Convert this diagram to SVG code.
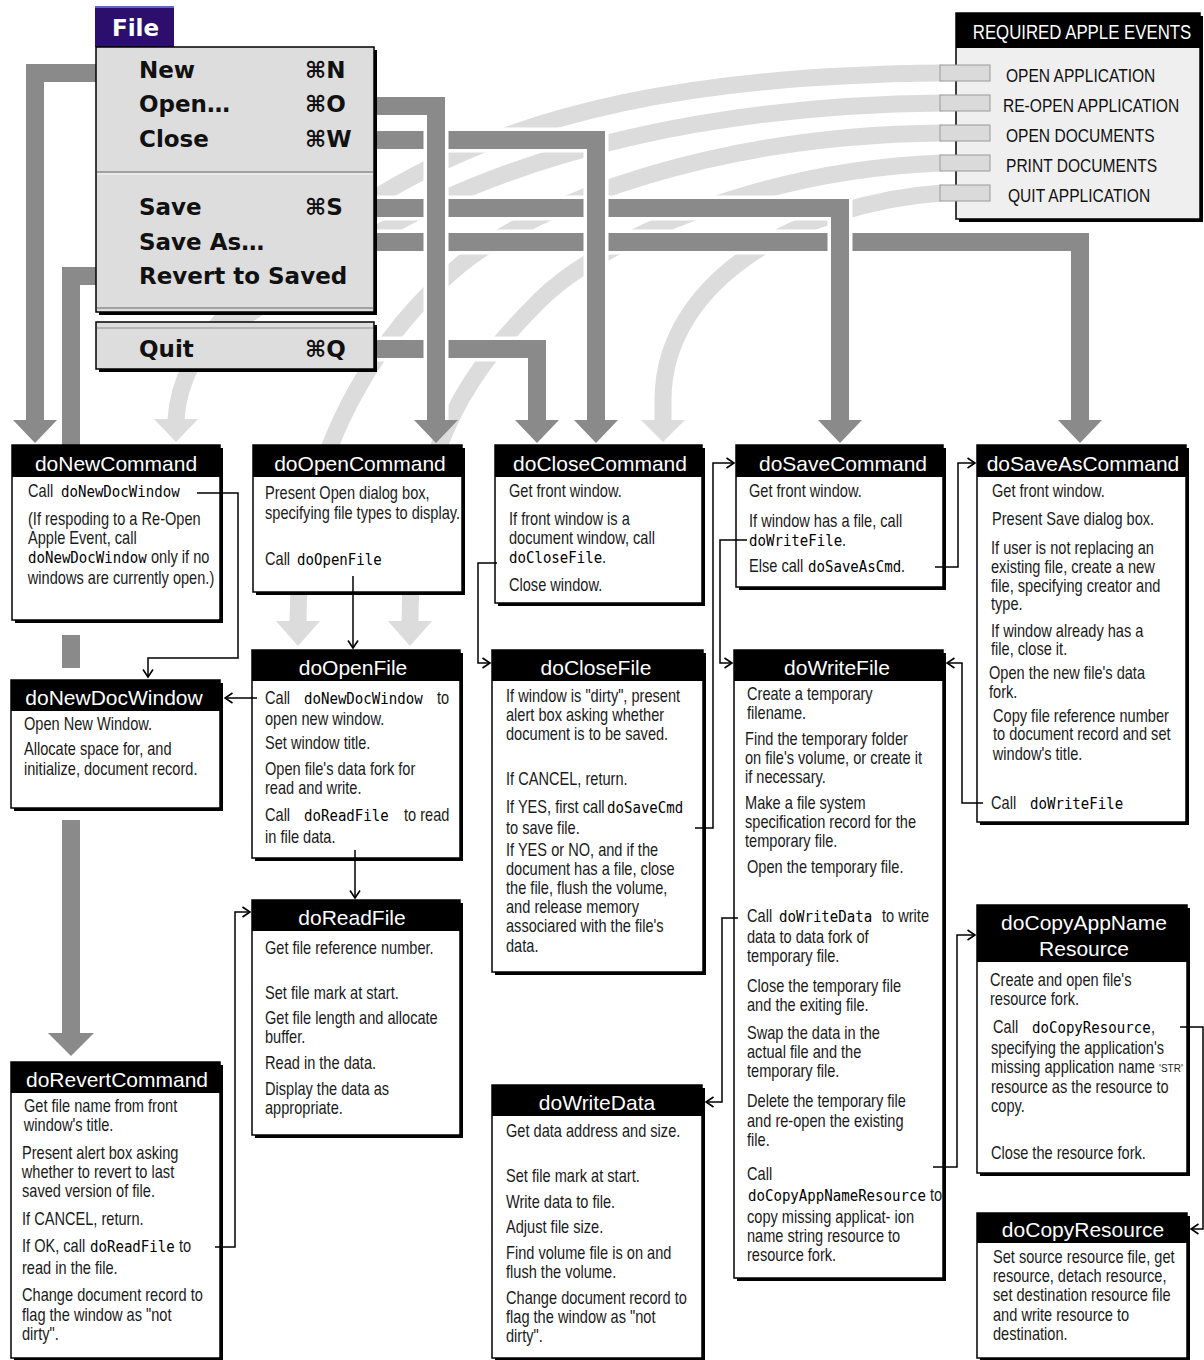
<svg xmlns="http://www.w3.org/2000/svg" width="1204" height="1360" viewBox="0 0 1204 1360">
<defs>
<style>
.b{font-family:"Liberation Sans",Arial,sans-serif;font-size:17.8px;fill:#1a1a1a;transform-box:fill-box;transform-origin:0 50%;transform:scaleX(.82)}
.c{font-family:"DejaVu Sans Mono","Liberation Mono",monospace;font-size:16px;fill:#000;transform-box:fill-box;transform-origin:0 50%;transform:scaleX(.88)}
.s{font-family:"Liberation Sans",Arial,sans-serif;font-size:10px;fill:#1a1a1a}
.t{font-family:"Liberation Sans",Arial,sans-serif;font-size:21px;fill:#fff;text-anchor:middle}
.m{font-family:"DejaVu Sans",sans-serif;font-weight:bold;font-size:23px;fill:#111}
.ae{font-family:"Liberation Sans",Arial,sans-serif;font-size:19px;fill:#111;transform-box:fill-box;transform-origin:0 50%;transform:scaleX(.82)}
.aet{font-family:"Liberation Sans",Arial,sans-serif;font-size:20.5px;fill:#fff;text-anchor:middle;transform-box:fill-box;transform-origin:50% 50%;transform:scaleX(.82)}
.sh{fill:#000}
.bx{fill:#fff;stroke:#000;stroke-width:1.5}
.tb{fill:#000}
.arc{fill:none;stroke:#dcdcdc;stroke-width:17}
.wo{fill:none;stroke:#fff;stroke-width:25}
.dk{fill:none;stroke:#8a8a8a;stroke-width:18}
.ah{fill:#8a8a8a}
.la{fill:#dcdcdc}
.ln{fill:none;stroke:#000;stroke-width:1.5}
.tab{fill:#dadada;stroke:#9a9a9a;stroke-width:1}
</style>
<marker id="arr" markerWidth="10" markerHeight="12" refX="8.5" refY="6" orient="auto" markerUnits="userSpaceOnUse">
<path d="M1,1 L8.5,6 L1,11" fill="none" stroke="#000" stroke-width="1.6"/>
</marker>
</defs>
<rect x="0" y="0" width="1204" height="1360" fill="#fff"/>

<g id="connectors">
<path class="arc" d="M942 73 C700 75 520 110 380 195 C260 270 180 340 176 420"/>
<polygon class="la" points="154,419 198,419 176,442"/>
<path class="arc" d="M942 103 C720 105 520 150 380 232 C270 300 200 340 180 372"/>
<path class="arc" d="M942 133 C720 135 540 200 460 265 C400 315 298 430 298 622"/>
<polygon class="la" points="276,621 320,621 298,646"/>
<path class="arc" d="M942 163 C760 170 600 240 540 300 C480 360 410 440 410 622"/>
<polygon class="la" points="388,621 432,621 410,646"/>
<path class="arc" d="M942 193 C800 203 663 280 663 400 L663 421"/>
<polygon class="la" points="641,420 685,420 663,442"/>
<path class="wo" d="M373 242 H1080 V420"/>
<path class="dk" d="M373 242 H1080 V421"/>
<polygon class="ah" points="1058,420 1102,420 1080,443"/>
<path class="wo" d="M373 208 H840 V420"/>
<path class="dk" d="M373 208 H840 V421"/>
<polygon class="ah" points="818,420 862,420 840,443"/>
<path class="wo" d="M373 140 H596 V420"/>
<path class="dk" d="M373 140 H596 V421"/>
<polygon class="ah" points="574,420 618,420 596,443"/>
<path class="wo" d="M373 349 H537 V420"/>
<path class="dk" d="M373 349 H537 V421"/>
<polygon class="ah" points="515,420 559,420 537,443"/>
<path class="dk" d="M100 73 H35 V421"/>
<polygon class="ah" points="13,420 57,420 35,443"/>
<path class="dk" d="M100 276 H71 V445"/>
<rect class="ah" x="62" y="635" width="18" height="33"/>
<path class="dk" d="M71 820 V1034"/>
<polygon class="ah" points="48,1033 94,1033 71,1056"/>
<path class="wo" d="M373 106 H436 V420"/>
<path class="dk" d="M373 106 H436 V421"/>
<polygon class="ah" points="414,420 458,420 436,443"/>
</g>

<g id="file-menu">
<rect x="95" y="6" width="79" height="41" fill="#2c0f6c"/>
<rect x="95" y="6" width="79" height="2" fill="#5a6cb4"/>
<text x="112" y="36" style="font-family:'DejaVu Sans',sans-serif;font-weight:bold;font-size:23px;fill:#fff">File</text>
<rect class="sh" x="99" y="50" width="278" height="265"/>
<rect x="96" y="47" width="278" height="265" fill="#dddddd" stroke="#000" stroke-width="1.5"/>
<line x1="97" y1="172" x2="373" y2="172" stroke="#8c8c8c" stroke-width="1.5"/>
<line x1="97" y1="174" x2="373" y2="174" stroke="#f4f4f4" stroke-width="1"/>
<line x1="97" y1="308" x2="373" y2="308" stroke="#8c8c8c" stroke-width="1.5"/>
<rect class="sh" x="99" y="325" width="278" height="47"/>
<rect x="96" y="322" width="278" height="47" fill="#dddddd" stroke="#000" stroke-width="1.5"/>
<line x1="97" y1="328" x2="373" y2="328" stroke="#8c8c8c" stroke-width="1.2"/>
<text class="m" x="139" y="78">New</text><text class="m" x="305" y="78">⌘N</text>
<text class="m" x="139" y="112">Open…</text><text class="m" x="305" y="112">⌘O</text>
<text class="m" x="139" y="147">Close</text><text class="m" x="305" y="147">⌘W</text>
<text class="m" x="139" y="215">Save</text><text class="m" x="305" y="215">⌘S</text>
<text class="m" x="139" y="250">Save As…</text>
<text class="m" x="139" y="284">Revert to Saved</text>
<text class="m" x="139" y="357">Quit</text><text class="m" x="305" y="357">⌘Q</text>
</g>

<g id="required-apple-events">
<rect class="sh" x="959" y="16" width="244" height="206"/>
<rect x="956" y="13" width="244" height="206" fill="#efefef" stroke="#000" stroke-width="1.5"/>
<rect class="tb" x="956" y="13" width="244" height="35"/>
<text class="aet" x="1082" y="39">REQUIRED APPLE EVENTS</text>
<rect class="tab" x="940" y="65" width="50" height="16"/>
<rect class="tab" x="940" y="95" width="50" height="16"/>
<rect class="tab" x="940" y="125" width="50" height="16"/>
<rect class="tab" x="940" y="155" width="50" height="16"/>
<rect class="tab" x="940" y="185" width="50" height="16"/>
<text class="ae" x="1006" y="82">OPEN APPLICATION</text>
<text class="ae" x="1003" y="112">RE-OPEN APPLICATION</text>
<text class="ae" x="1006" y="142">OPEN DOCUMENTS</text>
<text class="ae" x="1006" y="172">PRINT DOCUMENTS</text>
<text class="ae" x="1008" y="202">QUIT APPLICATION</text>
</g>

<g id="doNewCommand">
<rect class="sh" x="15" y="448" width="208" height="175"/>
<rect class="bx" x="12" y="445" width="208" height="175"/>
<rect class="tb" x="12" y="445" width="208" height="32"/>
<text class="t" x="116" y="471">doNewCommand</text>
<text class="b" x="28" y="497">Call</text><text class="c" x="61" y="497">doNewDocWindow</text>
<text class="b" x="28" y="525">(If respoding to a Re-Open</text>
<text class="b" x="28" y="544">Apple Event, call</text>
<text class="c" x="28" y="563">doNewDocWindow</text><text class="b" x="151" y="563">only if no</text>
<text class="b" x="28" y="584">windows are currently open.)</text>
</g>

<g id="doOpenCommand">
<rect class="sh" x="256" y="448" width="209" height="147"/>
<rect class="bx" x="253" y="445" width="209" height="147"/>
<rect class="tb" x="253" y="445" width="209" height="32"/>
<text class="t" x="360" y="471">doOpenCommand</text>
<text class="b" x="265" y="499">Present Open dialog box,</text>
<text class="b" x="265" y="519">specifying file types to display.</text>
<text class="b" x="265" y="565">Call</text><text class="c" x="297" y="565">doOpenFile</text>
</g>

<g id="doCloseCommand">
<rect class="sh" x="498" y="448" width="207" height="158"/>
<rect class="bx" x="495" y="445" width="207" height="158"/>
<rect class="tb" x="495" y="445" width="207" height="32"/>
<text class="t" x="600" y="471">doCloseCommand</text>
<text class="b" x="509" y="497">Get front window.</text>
<text class="b" x="509" y="525">If front window is a</text>
<text class="b" x="509" y="544">document window, call</text>
<text class="c" x="509" y="563">doCloseFile</text><text class="b" x="602" y="563">.</text>
<text class="b" x="509" y="591">Close window.</text>
</g>

<g id="doSaveCommand">
<rect class="sh" x="739" y="448" width="207" height="142"/>
<rect class="bx" x="736" y="445" width="207" height="142"/>
<rect class="tb" x="736" y="445" width="207" height="32"/>
<text class="t" x="843" y="471">doSaveCommand</text>
<text class="b" x="749" y="497">Get front window.</text>
<text class="b" x="749" y="527">If window has a file, call</text>
<text class="c" x="749" y="546">doWriteFile</text><text class="b" x="842" y="546">.</text>
<text class="b" x="749" y="572">Else call</text><text class="c" x="808" y="572">doSaveAsCmd</text><text class="b" x="901" y="572">.</text>
</g>

<g id="doSaveAsCommand">
<rect class="sh" x="980" y="448" width="209" height="377"/>
<rect class="bx" x="977" y="445" width="209" height="377"/>
<rect class="tb" x="977" y="445" width="209" height="32"/>
<text class="t" x="1083" y="471">doSaveAsCommand</text>
<text class="b" x="992" y="497">Get front window.</text>
<text class="b" x="992" y="525">Present Save dialog box.</text>
<text class="b" x="991" y="554">If user is not replacing an</text>
<text class="b" x="991" y="573">existing file, create a new</text>
<text class="b" x="991" y="592">file, specifying creator and</text>
<text class="b" x="991" y="610">type.</text>
<text class="b" x="991" y="637">If window already has a</text>
<text class="b" x="991" y="655">file, close it.</text>
<text class="b" x="989" y="679">Open the new file's data</text>
<text class="b" x="989" y="698">fork.</text>
<text class="b" x="993" y="722">Copy file reference number</text>
<text class="b" x="993" y="740">to document record and set</text>
<text class="b" x="993" y="760">window's title.</text>
<text class="b" x="991" y="809">Call</text><text class="c" x="1030" y="809">doWriteFile</text>
</g>

<g id="doNewDocWindow">
<rect class="sh" x="14" y="683" width="209" height="128"/>
<rect class="bx" x="11" y="680" width="209" height="128"/>
<rect class="tb" x="11" y="680" width="209" height="31"/>
<text class="t" x="114" y="705">doNewDocWindow</text>
<text class="b" x="24" y="730">Open New Window.</text>
<text class="b" x="24" y="755">Allocate space for, and</text>
<text class="b" x="24" y="775">initialize, document record.</text>
</g>

<g id="doOpenFile">
<rect class="sh" x="255" y="653" width="208" height="208"/>
<rect class="bx" x="252" y="650" width="208" height="208"/>
<rect class="tb" x="252" y="650" width="208" height="31"/>
<text class="t" x="353" y="675">doOpenFile</text>
<text class="b" x="265" y="704">Call</text><text class="c" x="304" y="704">doNewDocWindow</text><text class="b" x="437" y="704">to</text>
<text class="b" x="265" y="725">open new window.</text>
<text class="b" x="265" y="749">Set window title.</text>
<text class="b" x="265" y="775">Open file's data fork for</text>
<text class="b" x="265" y="794">read and write.</text>
<text class="b" x="265" y="821">Call</text><text class="c" x="304" y="821">doReadFile</text><text class="b" x="404" y="821">to read</text>
<text class="b" x="265" y="843">in file data.</text>
</g>

<g id="doCloseFile">
<rect class="sh" x="495" y="653" width="211" height="322"/>
<rect class="bx" x="492" y="650" width="211" height="322"/>
<rect class="tb" x="492" y="650" width="211" height="31"/>
<text class="t" x="596" y="675">doCloseFile</text>
<text class="b" x="506" y="702">If window is "dirty", present</text>
<text class="b" x="506" y="721">alert box asking whether</text>
<text class="b" x="506" y="740">document is to be saved.</text>
<text class="b" x="506" y="785">If CANCEL, return.</text>
<text class="b" x="506" y="813">If YES, first call</text><text class="c" x="607" y="813">doSaveCmd</text>
<text class="b" x="506" y="834">to save file.</text>
<text class="b" x="506" y="856">If YES or NO, and if the</text>
<text class="b" x="506" y="875">document has a file, close</text>
<text class="b" x="506" y="894">the file, flush the volume,</text>
<text class="b" x="506" y="913">and release memory</text>
<text class="b" x="506" y="932">associared with the file's</text>
<text class="b" x="506" y="952">data.</text>
</g>

<g id="doWriteFile">
<rect class="sh" x="737" y="653" width="209" height="628"/>
<rect class="bx" x="734" y="650" width="209" height="628"/>
<rect class="tb" x="734" y="650" width="209" height="31"/>
<text class="t" x="837" y="675">doWriteFile</text>
<text class="b" x="747" y="700">Create a temporary</text>
<text class="b" x="747" y="719">filename.</text>
<text class="b" x="745" y="745">Find the temporary folder</text>
<text class="b" x="745" y="764">on file's volume, or create it</text>
<text class="b" x="745" y="783">if necessary.</text>
<text class="b" x="745" y="809">Make a file system</text>
<text class="b" x="745" y="828">specification record for the</text>
<text class="b" x="745" y="847">temporary file.</text>
<text class="b" x="747" y="873">Open the temporary file.</text>
<text class="b" x="747" y="922">Call</text><text class="c" x="779" y="922">doWriteData</text><text class="b" x="882" y="922">to write</text>
<text class="b" x="747" y="943">data to data fork of</text>
<text class="b" x="747" y="962">temporary file.</text>
<text class="b" x="747" y="992">Close the temporary file</text>
<text class="b" x="747" y="1011">and the exiting file.</text>
<text class="b" x="747" y="1039">Swap the data in the</text>
<text class="b" x="747" y="1058">actual file and the</text>
<text class="b" x="747" y="1077">temporary file.</text>
<text class="b" x="747" y="1107">Delete the temporary file</text>
<text class="b" x="747" y="1127">and re-open the existing</text>
<text class="b" x="747" y="1146">file.</text>
<text class="b" x="747" y="1180">Call</text>
<text class="c" x="748" y="1201">doCopyAppNameResource</text><text class="b" x="930" y="1201">to</text>
<text class="b" x="747" y="1223">copy missing applicat- ion</text>
<text class="b" x="747" y="1242">name string resource to</text>
<text class="b" x="747" y="1261">resource fork.</text>
</g>

<g id="doReadFile">
<rect class="sh" x="255" y="903" width="208" height="235"/>
<rect class="bx" x="252" y="900" width="208" height="235"/>
<rect class="tb" x="252" y="900" width="208" height="31"/>
<text class="t" x="352" y="925">doReadFile</text>
<text class="b" x="265" y="954">Get file reference number.</text>
<text class="b" x="265" y="999">Set file mark at start.</text>
<text class="b" x="265" y="1024">Get file length and allocate</text>
<text class="b" x="265" y="1043">buffer.</text>
<text class="b" x="265" y="1069">Read in the data.</text>
<text class="b" x="265" y="1095">Display the data as</text>
<text class="b" x="265" y="1114">appropriate.</text>
</g>

<g id="doRevertCommand">
<rect class="sh" x="14" y="1065" width="209" height="296"/>
<rect class="bx" x="11" y="1062" width="209" height="296"/>
<rect class="tb" x="11" y="1062" width="209" height="31"/>
<text class="t" x="117" y="1087">doRevertCommand</text>
<text class="b" x="24" y="1112">Get file name from front</text>
<text class="b" x="24" y="1131">window's title.</text>
<text class="b" x="22" y="1159">Present alert box asking</text>
<text class="b" x="22" y="1178">whether to revert to last</text>
<text class="b" x="22" y="1197">saved version of file.</text>
<text class="b" x="22" y="1225">If CANCEL, return.</text>
<text class="b" x="22" y="1252">If OK, call</text><text class="c" x="90" y="1252">doReadFile</text><text class="b" x="179" y="1252">to</text>
<text class="b" x="22" y="1274">read in the file.</text>
<text class="b" x="22" y="1301">Change document record to</text>
<text class="b" x="22" y="1321">flag the window as "not</text>
<text class="b" x="22" y="1340">dirty".</text>
</g>

<g id="doWriteData">
<rect class="sh" x="495" y="1088" width="210" height="273"/>
<rect class="bx" x="492" y="1085" width="210" height="273"/>
<rect class="tb" x="492" y="1085" width="210" height="31"/>
<text class="t" x="597" y="1110">doWriteData</text>
<text class="b" x="506" y="1137">Get data address and size.</text>
<text class="b" x="506" y="1182">Set file mark at start.</text>
<text class="b" x="506" y="1208">Write data to file.</text>
<text class="b" x="506" y="1233">Adjust file size.</text>
<text class="b" x="506" y="1259">Find volume file is on and</text>
<text class="b" x="506" y="1278">flush the volume.</text>
<text class="b" x="506" y="1304">Change document record to</text>
<text class="b" x="506" y="1323">flag the window as "not</text>
<text class="b" x="506" y="1342">dirty".</text>
</g>

<g id="doCopyAppNameResource">
<rect class="sh" x="980" y="908" width="210" height="268"/>
<rect class="bx" x="977" y="905" width="210" height="268"/>
<rect class="tb" x="977" y="905" width="210" height="57"/>
<text class="t" x="1084" y="930">doCopyAppName</text>
<text class="t" x="1084" y="956">Resource</text>
<text class="b" x="990" y="986">Create and open file's</text>
<text class="b" x="990" y="1005">resource fork.</text>
<text class="b" x="993" y="1033">Call</text><text class="c" x="1032" y="1033">doCopyResource</text><text class="b" x="1151" y="1033">,</text>
<text class="b" x="991" y="1054">specifying the application's</text>
<text class="b" x="991" y="1073">missing application name</text><text class="s" x="1159" y="1072">'STR'</text>
<text class="b" x="991" y="1093">resource as the resource to</text>
<text class="b" x="991" y="1112">copy.</text>
<text class="b" x="991" y="1159">Close the resource fork.</text>
</g>

<g id="doCopyResource">
<rect class="sh" x="980" y="1216" width="210" height="145"/>
<rect class="bx" x="977" y="1213" width="210" height="145"/>
<rect class="tb" x="977" y="1213" width="210" height="30"/>
<text class="t" x="1083" y="1237">doCopyResource</text>
<text class="b" x="993" y="1263">Set source resource file, get</text>
<text class="b" x="993" y="1282">resource,  detach resource,</text>
<text class="b" x="993" y="1301">set destination resource file</text>
<text class="b" x="993" y="1321">and write resource to</text>
<text class="b" x="993" y="1340">destination.</text>
</g>

<g id="connectors-calls">
<path class="ln" d="M197 493 H238 V658 H148 V677" marker-end="url(#arr)"/>
<path class="ln" d="M353 576 V648" marker-end="url(#arr)"/>
<path class="ln" d="M257 698 H225" marker-end="url(#arr)"/>
<path class="ln" d="M355 850 V898" marker-end="url(#arr)"/>
<path class="ln" d="M215 1247 H235 V912 H250" marker-end="url(#arr)"/>
<path class="ln" d="M497 563 H478 V663 H490" marker-end="url(#arr)"/>
<path class="ln" d="M695 828 H713 V463 H734" marker-end="url(#arr)"/>
<path class="ln" d="M747 540 H720 V663 H732" marker-end="url(#arr)"/>
<path class="ln" d="M935 567 H958 V463 H975" marker-end="url(#arr)"/>
<path class="ln" d="M983 803 H962 V663 H947" marker-end="url(#arr)"/>
<path class="ln" d="M738 918 H722 V1102 H706" marker-end="url(#arr)"/>
<path class="ln" d="M933 1167 H957 V935 H975" marker-end="url(#arr)"/>
<path class="ln" d="M1180 1027 H1203 V1229 H1191" marker-end="url(#arr)"/>
</g>
</svg>
